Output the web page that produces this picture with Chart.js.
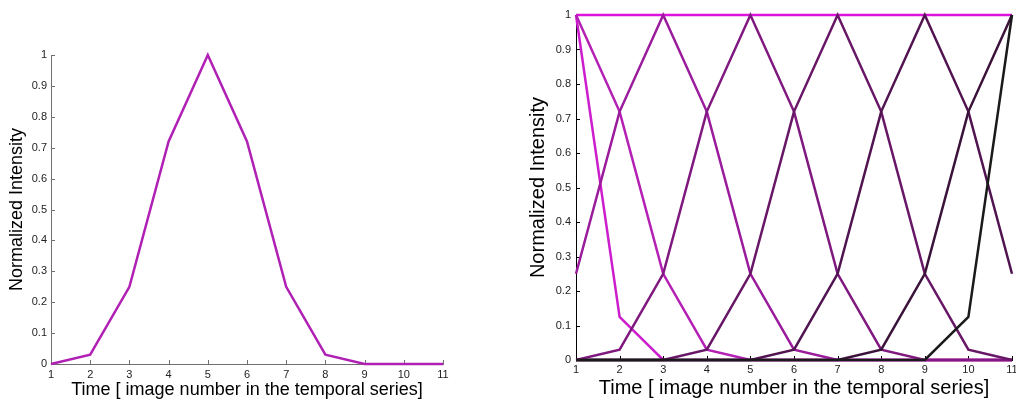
<!DOCTYPE html>
<html><head><meta charset="utf-8">
<script src="https://cdn.jsdelivr.net/npm/chart.js@4.4.1/dist/chart.umd.min.js"></script>
<style>
html,body{margin:0;padding:0;background:#fff;overflow:hidden;width:1016px;height:401px}
#w1{position:absolute;left:0;top:0;width:460px;height:401px}
#w2{position:absolute;left:520px;top:0;width:496px;height:401px}
</style></head><body>
<div id="w1"><canvas id="c1" width="460" height="401"></canvas></div>
<div id="w2"><canvas id="c2" width="496" height="401"></canvas></div>
<script>
// ---- data ----
const timeLabels = ['1','2','3','4','5','6','7','8','9','10','11'];
const xTitle = 'Time [ image number in the temporal series]';
const yTitle = 'Normalized Intensity';
const singleProfile = [0, 0.03, 0.25, 0.72, 1, 0.72, 0.25, 0.03, 0, 0, 0];

const flatTop   = [1, 1, 1, 1, 1, 1, 1, 1, 1, 1, 1];
const fastDecay = [1, 0.125, 0, 0, 0, 0, 0, 0, 0, 0, 0];
const peak1  = [1, 0.72, 0.25, 0.03, 0, 0, 0, 0, 0, 0, 0];
const peak3  = [0.25, 0.72, 1, 0.72, 0.25, 0.03, 0, 0, 0, 0, 0];
const peak5  = [0, 0.03, 0.25, 0.72, 1, 0.72, 0.25, 0.03, 0, 0, 0];
const peak7  = [0, 0, 0, 0.03, 0.25, 0.72, 1, 0.72, 0.25, 0.03, 0];
const peak9  = [0, 0, 0, 0, 0, 0.03, 0.25, 0.72, 1, 0.72, 0.25];
const peak11 = [0, 0, 0, 0, 0, 0, 0, 0.03, 0.25, 0.72, 1];
const fastRise = [0, 0, 0, 0, 0, 0, 0, 0, 0, 0.125, 1];

const rightSeries = [flatTop, fastDecay, peak1, peak3, peak5, peak7, peak9, peak11, fastRise];
const rightColors = ['#dd12dd','#cc1ecc','#b41fb4','#9a1b9c','#80197f','#681767','#511451','#3b1239','#1a1a1a'];

const FONT = "'Liberation Sans', Arial, sans-serif";

const inwardTicks = {
  id: 'inwardTicks',
  beforeDatasetsDraw(chart, args, opts) {
    const {ctx, chartArea: a, scales: {x, y}} = chart;
    ctx.save();
    ctx.strokeStyle = opts.color;
    ctx.lineWidth = 1;
    ctx.beginPath();
    x.ticks.forEach((t, i) => {
      const px = Math.round(x.getPixelForTick(i)) + 0.5;
      ctx.moveTo(px, a.bottom); ctx.lineTo(px, a.bottom - opts.len);
    });
    y.ticks.forEach((t, i) => {
      const py = Math.round(y.getPixelForTick(i)) + 0.5;
      ctx.moveTo(a.left, py); ctx.lineTo(a.left + opts.len, py);
    });
    ctx.stroke();
    ctx.restore();
  }
};

function makeOptions(cfg) {
  return {
    responsive: false,
    animation: false,
    devicePixelRatio: 1,
    layout: { padding: { left: 0, top: cfg.top, right: cfg.right, bottom: 0 } },
    plugins: {
      legend: { display: false },
      tooltip: { enabled: false },
      inwardTicks: { color: cfg.axisColor, len: 4 }
    },
    elements: { point: { radius: 0 }, line: { tension: 0, borderCapStyle: 'butt', borderJoinStyle: 'miter' } },
    scales: {
      x: {
        type: 'category',
        offset: false,
        grid: { display: false, drawTicks: false },
        border: { display: true, color: cfg.axisColor, width: 1 },
        ticks: { color: '#222', font: { family: FONT, size: cfg.tickSize }, padding: cfg.xTickPad, maxRotation: 0, autoSkip: false },
        title: { display: true, text: xTitle, color: '#000', font: { family: FONT, size: cfg.titleSize }, padding: { top: 0, bottom: cfg.xTitlePadB } },
        afterFit(s) { s.height = cfg.xHeight; s.paddingLeft = 0; s.paddingRight = 0; }
      },
      y: {
        min: 0, max: 1,
        grid: { display: false, drawTicks: false },
        border: { display: true, color: cfg.axisColor, width: 1 },
        ticks: { stepSize: 0.1, color: '#222', font: { family: FONT, size: cfg.tickSize }, padding: cfg.yTickPad,
                 callback: v => String(+Number(v).toFixed(1)) },
        title: { display: true, text: yTitle, color: '#000', font: { family: FONT, size: cfg.titleSize }, padding: { top: cfg.yTitlePadT, bottom: 0 } },
        afterFit(s) { s.width = cfg.yWidth; s.paddingTop = 0; s.paddingBottom = 0; }
      }
    }
  };
}

new Chart(document.getElementById('c1'), {
  type: 'line',
  data: {
    labels: timeLabels,
    datasets: [{ data: singleProfile, borderColor: '#b020b4', borderWidth: 2.5, clip: false }]
  },
  options: makeOptions({ top: 55, right: 17, axisColor: '#707070', tickSize: 11, titleSize: 18,
    xTickPad: 4, yTickPad: 4, xTitlePadB: 0, yTitlePadT: 6, xHeight: 37, yWidth: 51 }),
  plugins: [inwardTicks]
});

new Chart(document.getElementById('c2'), {
  type: 'line',
  data: {
    labels: timeLabels,
    datasets: rightSeries.map((d, i) => ({ data: d, borderColor: rightColors[i], borderWidth: 2.5, clip: false, order: rightSeries.length - i }))
  },
  options: makeOptions({ top: 15, right: 4, axisColor: '#000', tickSize: 11, titleSize: 20,
    xTickPad: 3, yTickPad: 5, xTitlePadB: 1, yTitlePadT: 6, xHeight: 41, yWidth: 56 }),
  plugins: [inwardTicks]
});
</script>
</body></html>
